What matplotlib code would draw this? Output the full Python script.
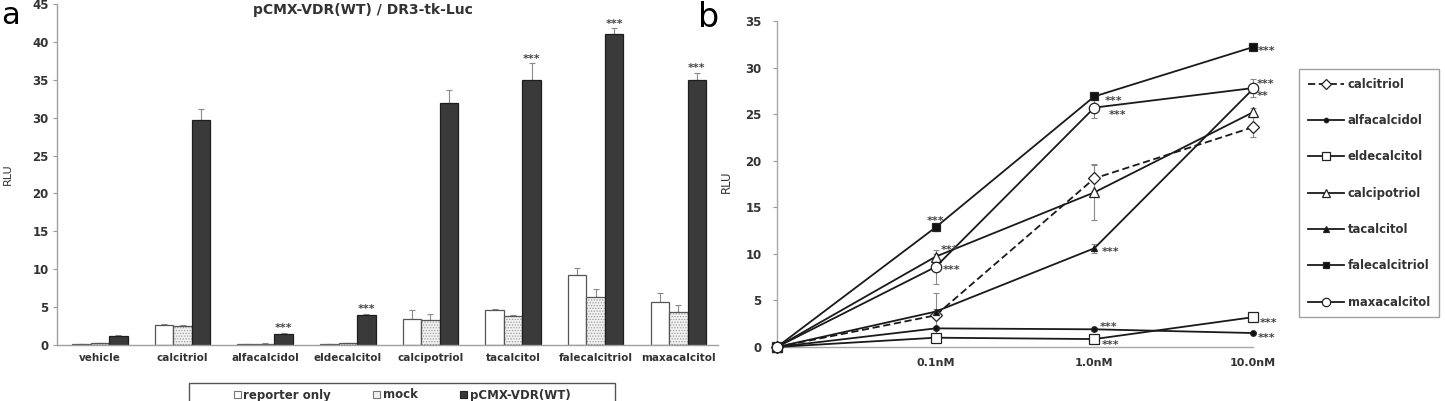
import matplotlib
matplotlib.use('Agg')
import matplotlib.pyplot as plt
import numpy as np
from matplotlib.patches import Rectangle, Patch

plt.rcParams['font.family'] = ['DejaVu Sans']
plt.rcParams['font.weight'] = 'bold'
plt.rcParams['hatch.linewidth'] = 0.6
plt.rcParams['hatch.color'] = '#9a9a9a'

W, H = 1445, 401

# ---------------- panel a data ----------------
categories = ['vehicle', 'calcitriol', 'alfacalcidol', 'eldecalcitol',
              'calcipotriol', 'tacalcitol', 'falecalcitriol', 'maxacalcitol']
reporter_only = [0.1, 2.6, 0.1, 0.1, 3.4, 4.6, 9.3, 5.7]
reporter_only_err = [0.05, 0.15, 0.05, 0.05, 1.2, 0.1, 0.9, 1.1]
mock = [0.25, 2.5, 0.15, 0.2, 3.3, 3.8, 6.4, 4.4]
mock_err = [0.05, 0.1, 0.05, 0.05, 0.8, 0.2, 1.0, 0.9]
vdr_wt = [1.2, 29.7, 1.5, 3.9, 31.9, 35.0, 41.1, 35.0]
vdr_wt_err = [0.1, 1.5, 0.1, 0.2, 1.7, 2.2, 0.7, 0.9]
signif_a = ['', '', '***', '***', '', '***', '***', '***']
series_a = ['reporter only', 'mock', 'pCMX-VDR(WT)']
title_a = 'pCMX-VDR(WT) / DR3-tk-Luc'

# ---------------- panel b data ----------------
doses = ['', '0.1nM', '1.0nM', '10.0nM']
compounds = ['calcitriol', 'alfacalcidol', 'eldecalcitol', 'calcipotriol',
             'tacalcitol', 'falecalcitriol', 'maxacalcitol']
calcitriol_v = [0, 3.4, 18.1, 23.6]
alfacalcidol_v = [0, 2.0, 1.9, 1.5]
eldecalcitol_v = [0, 1.0, 0.85, 3.2]
calcipotriol_v = [0, 9.7, 16.6, 25.2]
tacalcitol_v = [0, 3.8, 10.6, 27.7]
falecalcitriol_v = [0, 12.85, 26.9, 32.2]
maxacalcitol_v = [0, 8.6, 25.7, 27.8]
calcitriol_e = [0, 2.4, 1.4, 1.1]
alfacalcidol_e = [0, 0.15, 0.15, 0.1]
eldecalcitol_e = [0, 0.15, 0.15, 0.2]
calcipotriol_e = [0, 0.3, 3.0, 0.5]
tacalcitol_e = [0, 0.3, 0.5, 0.4]
falecalcitriol_e = [0, 0.4, 0.3, 0.3]
maxacalcitol_e = [0, 1.8, 1.1, 1.0]
values_b = [calcitriol_v, alfacalcidol_v, eldecalcitol_v, calcipotriol_v,
            tacalcitol_v, falecalcitriol_v, maxacalcitol_v]
errors_b = [calcitriol_e, alfacalcidol_e, eldecalcitol_e, calcipotriol_e,
            tacalcitol_e, falecalcitriol_e, maxacalcitol_e]

# significance labels: (compound, dose index, text)
signif_b = [('falecalcitriol', 1, '***'), ('calcipotriol', 1, '***'), ('maxacalcitol', 1, '***'),
            ('falecalcitriol', 2, '***'), ('maxacalcitol', 2, '***'), ('tacalcitol', 2, '***'),
            ('alfacalcidol', 2, '***'), ('eldecalcitol', 2, '***'),
            ('falecalcitriol', 3, '***'), ('maxacalcitol', 3, '***'), ('tacalcitol', 3, '**'),
            ('eldecalcitol', 3, '***'), ('alfacalcidol', 3, '***')]
# label placement (ha, dx px, dy px) -- layout only
signif_b_pos = [('center', 0, 3), ('left', 5, 4), ('left', 7, -6),
                ('left', 10, -8), ('left', 14, -10), ('left', 7, -7),
                ('left', 5, -1), ('left', 7, -9),
                ('left', 5, -7), ('left', 4, 1), ('left', 4, -10),
                ('left', 7, -9), ('left', 5, -8)]

styles_b = {
    'calcitriol':     dict(ls=(0, (4, 2)), marker='D', ms=6, mfc='white'),
    'alfacalcidol':   dict(ls='-', marker='o', ms=4, mfc='#111'),
    'eldecalcitol':   dict(ls='-', marker='s', ms=6.5, mfc='white'),
    'calcipotriol':   dict(ls='-', marker='^', ms=7.5, mfc='white'),
    'tacalcitol':     dict(ls='-', marker='^', ms=5, mfc='#111'),
    'falecalcitriol': dict(ls='-', marker='s', ms=5.5, mfc='#111'),
    'maxacalcitol':   dict(ls='-', marker='o', ms=7.5, mfc='white'),
}

fig = plt.figure(figsize=(W / 100, H / 100), dpi=100)

def fig_rect(l, t, r, b):
    return [l / W, 1 - b / H, (r - l) / W, (b - t) / H]

# ================= panel a =================
ax_a = fig.add_axes(fig_rect(57, 4, 718, 345))
x = np.arange(len(categories))
w = 0.224
ax_a.bar(x - w, reporter_only, w, color='white', edgecolor='#555', lw=0.9, zorder=2)
ax_a.bar(x, mock, w, color='#f2f2f2', edgecolor='#9a9a9a', hatch='......', lw=0, zorder=2)
ax_a.bar(x, mock, w, fill=False, edgecolor='#555', lw=0.9, zorder=2)
ax_a.bar(x + w, vdr_wt, w, color='#3a3a3a', edgecolor='#1e1e1e', lw=0.9, zorder=2)
for off, vals, errs in [(-w, reporter_only, reporter_only_err),
                        (0, mock, mock_err), (w, vdr_wt, vdr_wt_err)]:
    ax_a.errorbar(x + off, vals, yerr=[np.zeros(len(vals)), errs], fmt='none',
                  ecolor='#8a8a8a', elinewidth=0.8, capsize=2.5, capthick=0.8, zorder=1)
for i, s in enumerate(signif_a):
    if s:
        ax_a.text(x[i] + w, vdr_wt[i] + vdr_wt_err[i] + 0.2, s, ha='center',
                  va='baseline', fontsize=8, color='#444')
ax_a.set_xlim(-0.52, 7.48)
ax_a.set_ylim(0, 45)
ax_a.set_yticks(np.arange(0, 46, 5))
ax_a.set_xticks(x)
ax_a.set_xticklabels(categories)
ax_a.tick_params(axis='y', length=3, color='#999', labelsize=8.5, labelcolor='#333', pad=3)
ax_a.tick_params(axis='x', length=0, labelsize=7.5, labelcolor='#333', pad=6)
for sp in ['top', 'right']:
    ax_a.spines[sp].set_visible(False)
for sp in ['left', 'bottom']:
    ax_a.spines[sp].set_color('#a0a0a0')
    ax_a.spines[sp].set_linewidth(1.0)
ax_a.set_ylabel('RLU', fontsize=8, color='#333')
ax_a.yaxis.set_label_coords(-0.066, 0.5)
fig.text(363 / W, 1 - 10 / H, title_a, ha='center', va='center', fontsize=10, color='#333')

handles_a = [Patch(facecolor='white', edgecolor='#777', lw=0.8),
             Patch(facecolor='#f2f2f2', edgecolor='#777', lw=0.8),
             Patch(facecolor='#3a3a3a', edgecolor='#222', lw=0.8)]
fig.legend(handles_a, series_a, loc='center', bbox_to_anchor=(402 / W, 1 - 395 / H),
           ncol=3, frameon=False, fontsize=8.5, columnspacing=3.6, handletextpad=0.2,
           handlelength=0.6, handleheight=0.6, borderpad=0, labelcolor='#333')
fig.add_artist(Rectangle((189 / W, 1 - 412 / H), (615 - 189) / W, (412 - 383) / H,
                         transform=fig.transFigure, fill=False, ec='#555', lw=1.0))

# ================= panel b =================
ax_b = fig.add_axes(fig_rect(777, 21, 1253, 347))
xb = np.arange(len(doses))
for name, vals, errs in zip(compounds, values_b, errors_b):
    st = styles_b[name]
    ax_b.errorbar(xb, vals, yerr=errs, fmt='none', ecolor='#8a8a8a', elinewidth=0.8,
                  capsize=2.5, capthick=0.8, zorder=2, clip_on=False)
    ax_b.plot(xb, vals, color='#1a1a1a', lw=1.3, ls=st['ls'], marker=st['marker'],
              ms=st['ms'], mfc=st['mfc'], mec='#222', mew=0.9, zorder=3,
              clip_on=False, label=name)
for (name, di, txt), (ha, dx, dy) in zip(signif_b, signif_b_pos):
    yv = values_b[compounds.index(name)][di]
    ax_b.annotate(txt, (xb[di], yv), xytext=(dx, dy), textcoords='offset pixels',
                  ha=ha, va='baseline', fontsize=8, color='#444')
ax_b.set_xlim(0, 3)
ax_b.set_ylim(0, 35)
ax_b.set_yticks(np.arange(0, 36, 5))
ax_b.set_xticks(xb)
ax_b.set_xticklabels(doses)
ax_b.tick_params(axis='y', length=3, color='#999', labelsize=8.5, labelcolor='#333', pad=8)
ax_b.tick_params(axis='x', length=0, labelsize=8, labelcolor='#333', pad=8)
for sp in ['top', 'right']:
    ax_b.spines[sp].set_visible(False)
for sp in ['left', 'bottom']:
    ax_b.spines[sp].set_color('#a8a8a8')
    ax_b.spines[sp].set_linewidth(1.0)
ax_b.set_ylabel('RLU', fontsize=8.5, color='#333')
ax_b.yaxis.set_label_coords(-0.0924, 0.506)
leg = ax_b.legend(loc='upper left', bbox_to_anchor=(1299 / W, 1 - 69 / H),
                  bbox_transform=fig.transFigure, frameon=True, fancybox=False,
                  edgecolor='#888', fontsize=8.4, labelspacing=2.0, handlelength=3.1,
                  handletextpad=0.35, borderpad=0.75, borderaxespad=0, markerscale=0.8,
                  labelcolor='#333')
leg.get_frame().set_linewidth(1.0)

# panel labels
fig.text(1 / W, 1 - 1 / H, 'a', fontsize=22, fontweight='normal', ha='left', va='top')
fig.text(698 / W, 1 - 27 / H, 'b', fontsize=24, fontweight='normal', ha='left', va='baseline')

fig.savefig('out.png', dpi=100)
